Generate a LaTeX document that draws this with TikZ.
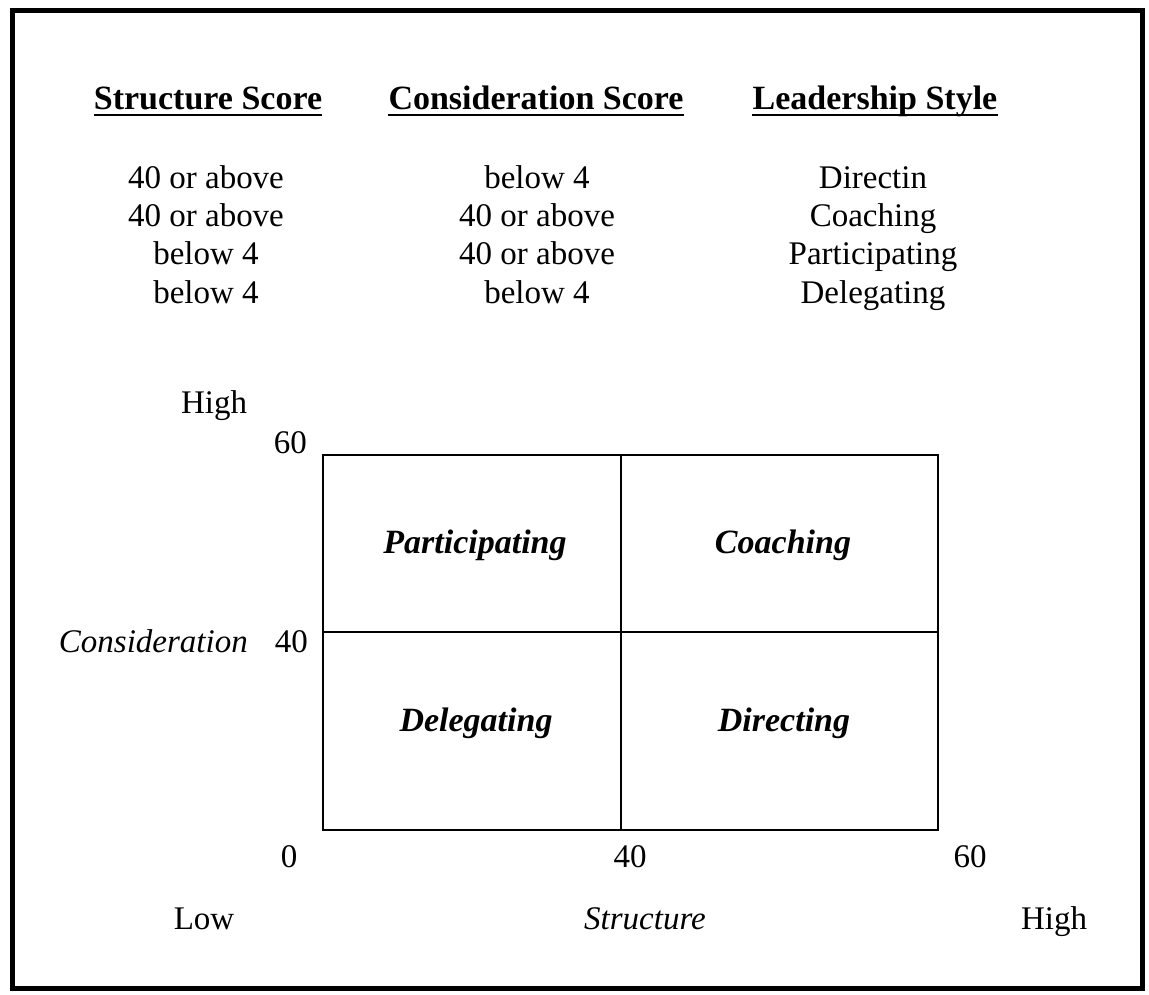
\documentclass[tikz,border=0pt]{standalone}
\usepackage{fontspec}
\setmainfont{Liberation Serif}
\usetikzlibrary{positioning}

\begin{document}
\begin{tikzpicture}[x=1pt,y=-1pt,
    every node/.style={inner sep=0pt,anchor=base,font=\fontsize{33}{39}\selectfont},
    head/.style={font=\fontsize{34}{40}\selectfont\bfseries},
    quad/.style={font=\fontsize{34}{40}\selectfont\bfseries\itshape},
    axis/.style={font=\fontsize{33}{39}\selectfont\itshape},
    rule/.style={line width=2.8pt},
    grid/.style={line width=1.8pt}]
  \useasboundingbox (0,0) rectangle (1149,995);
  \draw[line width=5pt] (12,11) rectangle (1142,988);

  % score table
  \node[head] (hs) at (208,110) {Structure Score};
  \node[head] (hc) at (536,110) {Consideration Score};
  \node[head] (hl) at (875,110) {Leadership Style};
  \foreach \n in {hs,hc,hl}
    \draw[rule] ([yshift=-5pt]\n.base west) -- ([yshift=-5pt]\n.base east);
  \foreach \s/\c/\l [count=\i] in {40 or above/below 4/Directin,
      40 or above/40 or above/Coaching, below 4/40 or above/Participating,
      below 4/below 4/Delegating}{
    \node (s\i) at (206,150+38.3*\i) {\s};
    \node (c\i) at (537,150+38.3*\i) {\c};
    \node (l\i) at (873,150+38.3*\i) {\l};
  }

  % the four quadrants
  \coordinate (o)  at (323,830);
  \coordinate (tr) at (938,455);
  \coordinate (xb) at (621,830);
  \coordinate (xt) at (621,455);
  \coordinate (yl) at (323,632);
  \coordinate (yr) at (938,632);
  \draw[grid] (o) rectangle (tr);
  \draw[grid] (xb) -- (xt) (yl) -- (yr);
  \node[quad] (qpart) at (475,553) {Participating};
  \node[quad] (qcoach) at (783,553) {Coaching};
  \node[quad] (qdeleg) at (476,731) {Delegating};
  \node[quad] (qdir) at (784,731) {Directing};

  % axes
  \node (yhigh) at (214,413) {High};
  \node[anchor=base east] (y60) at (307,453) {60};
  \node[anchor=base east] (y40) at (308,652) {40};
  \node[axis,anchor=base east] (ylab) at (248,652) {Consideration};
  \node (x0)  at (289,867) {0};
  \node (x40) at (630,867) {40};
  \node (x60) at (970,867) {60};
  \node (xlow)  at (204,929) {Low};
  \node[axis] (xlab) at (645,929) {Structure};
  \node (xhigh) at (1054,929) {High};
\end{tikzpicture}
\end{document}
